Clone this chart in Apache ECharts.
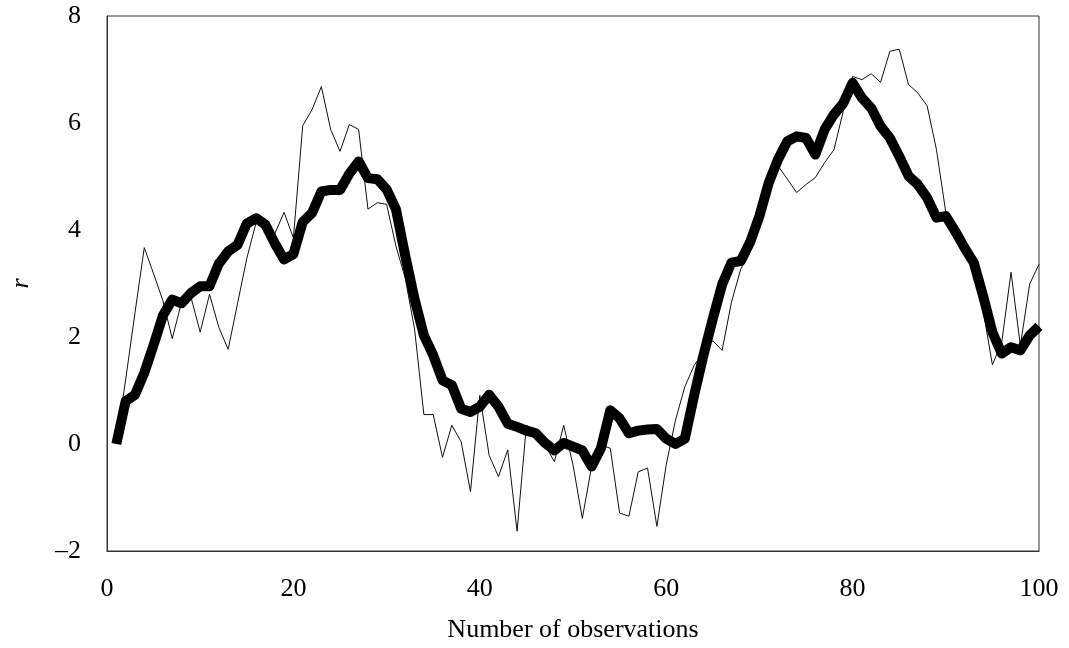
<!DOCTYPE html>
<html>
<head>
<meta charset="utf-8">
<script src="https://cdn.jsdelivr.net/npm/echarts@6/dist/echarts.min.js"></script>
<style>html,body{margin:0;padding:0;background:#fff;}#c{width:1069px;height:648px;}</style>
</head>
<body>
<div id="c"></div>
<script>
const obs = Array.from({length: 100}, (_, k) => k + 1);
const thinValues = [
  0.0, 1.2, 2.45, 3.67, 3.18, 2.68, 1.97, 2.65, 2.75, 2.09,
  2.8, 2.18, 1.77, 2.62, 3.47, 4.14, 4.0, 3.93, 4.33, 3.85,
  5.95, 6.25, 6.68, 5.88, 5.47, 5.97, 5.88, 4.39, 4.51, 4.48,
  3.7, 3.1, 2.15, 0.55, 0.55, -0.25, 0.35, 0.04, -0.89, 0.91,
  -0.21, -0.61, -0.11, -1.63, 0.35, 0.26, -0.02, -0.33, 0.35, -0.39,
  -1.39, -0.42, -0.02, -0.08, -1.29, -1.35, -0.52, -0.45, -1.54, -0.39,
  0.45, 1.07, 1.47, 1.72, 1.93, 1.75, 2.65, 3.27, 3.58, 4.2,
  4.85, 5.2, 4.95, 4.7, 4.85, 4.98, 5.26, 5.5, 6.22, 6.87,
  6.81, 6.92, 6.76, 7.34, 7.38, 6.72, 6.56, 6.32, 5.5, 4.33,
  3.95, 3.6, 3.25, 2.5, 1.48, 1.9, 3.21, 1.84, 2.99, 3.36
];
const thickValues = [
  0.0, 0.8, 0.92, 1.33, 1.85, 2.4, 2.7, 2.63, 2.82, 2.95,
  2.95, 3.37, 3.6, 3.72, 4.12, 4.22, 4.1, 3.75, 3.45, 3.55,
  4.15, 4.32, 4.72, 4.75, 4.75, 5.05, 5.28, 4.97, 4.95, 4.76,
  4.39, 3.52, 2.71, 2.03, 1.66, 1.19, 1.1, 0.66, 0.6, 0.7,
  0.92, 0.7, 0.38, 0.32, 0.25, 0.2, 0.02, -0.12, 0.02, -0.05,
  -0.12, -0.42, -0.08, 0.63, 0.48, 0.2, 0.25, 0.27, 0.28, 0.1,
  0.0, 0.1, 0.91, 1.66, 2.34, 2.98, 3.39, 3.42, 3.77, 4.26,
  4.88, 5.32, 5.66, 5.75, 5.72, 5.41, 5.88, 6.16, 6.37, 6.75,
  6.47, 6.28, 5.94, 5.72, 5.38, 5.01, 4.85, 4.6, 4.23, 4.26,
  3.98, 3.67, 3.39, 2.77, 2.09, 1.69, 1.81, 1.75, 2.03, 2.2
];
const xTicks = [0, 20, 40, 60, 80, 100];
const yTicks = [-2, 0, 2, 4, 6, 8];

const font = '"Liberation Serif", "Times New Roman", serif';
const chart = echarts.init(document.getElementById('c'));
chart.setOption({
  animation: false,
  backgroundColor: '#fff',
  grid: {left: 104, right: 30, top: 16, bottom: 95, show: true, borderColor: '#333', borderWidth: 1},
  xAxis: {
    type: 'value', min: xTicks[0], max: xTicks[xTicks.length - 1], interval: 20,
    name: 'Number of observations', nameLocation: 'middle', nameGap: 66,
    nameTextStyle: {fontFamily: font, fontSize: 26, color: '#000'},
    axisLine: {show: true, onZero: false, lineStyle: {color: '#333', width: 1}},
    axisTick: {show: false},
    splitLine: {show: false},
    axisLabel: {fontFamily: font, fontSize: 26, color: '#000', margin: 25}
  },
  yAxis: {
    type: 'value', min: yTicks[0], max: yTicks[yTicks.length - 1], interval: 2,
    name: 'r', nameLocation: 'middle', nameGap: 73,
    nameTextStyle: {fontFamily: font, fontSize: 26, fontStyle: 'italic', color: '#000'},
    axisLine: {show: true, onZero: false, lineStyle: {color: '#333', width: 1}},
    axisTick: {show: false},
    splitLine: {show: false},
    axisLabel: {fontFamily: font, fontSize: 26, color: '#000', margin: 26,
      formatter: v => String(v).replace('-', '\u2013')}
  },
  series: [
    {type: 'line', data: obs.map((x, k) => [x, thinValues[k]]), showSymbol: false,
     lineStyle: {color: '#111', width: 1}, z: 2},
    {type: 'line', data: obs.map((x, k) => [x, thickValues[k]]), showSymbol: false,
     lineStyle: {color: '#000', width: 10, join: 'round', cap: 'butt'}, z: 3}
  ]
});
</script>
</body>
</html>
